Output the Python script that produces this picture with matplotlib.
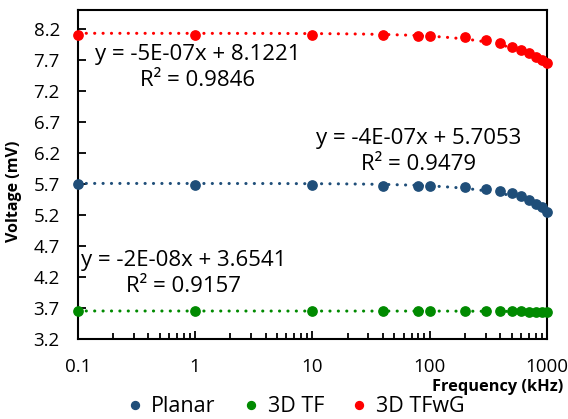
import matplotlib
matplotlib.use("Agg")
import matplotlib.pyplot as plt
import numpy as np

# frequency in kHz
freq = [0.1, 1, 10, 40, 80, 100, 200, 300, 400, 500, 600, 700, 800, 900, 1000]

planar = [5.69, 5.68, 5.68, 5.665, 5.665, 5.665, 5.65, 5.62, 5.585, 5.55,
          5.50, 5.44, 5.38, 5.33, 5.25]
tf3d = [3.65, 3.65, 3.65, 3.65, 3.65, 3.65, 3.65, 3.65, 3.645, 3.645,
        3.645, 3.64, 3.64, 3.64, 3.635]
tfwg = [8.10, 8.10, 8.10, 8.10, 8.09, 8.09, 8.06, 8.02, 7.97, 7.91,
        7.85, 7.80, 7.74, 7.69, 7.65]

labels = ["Planar", "3D TF", "3D TFwG"]
colors = ["#1f4e79", "#008a00", "#ff0000"]
fit_text = [
    "y = -4E-07x + 5.7053\nR² = 0.9479",
    "y = -2E-08x + 3.6541\nR² = 0.9157",
    "y = -5E-07x + 8.1221\nR² = 0.9846",
]
text_pos = [(81, 6.22), (0.80, 4.26), (1.05, 7.58)]

yticks = [3.2, 3.7, 4.2, 4.7, 5.2, 5.7, 6.2, 6.7, 7.2, 7.7, 8.2]
xticks = [0.1, 1, 10, 100, 1000]
xticklabels = ["0.1", "1", "10", "100", "1000"]

plt.rcParams['font.family'] = ['Open Sans', 'DejaVu Sans']

fig = plt.figure(figsize=(5.68, 4.19), dpi=100)
ax = fig.add_axes([0.137, 0.191, 0.826, 0.785])

xs = np.array(freq)
xd = np.logspace(-1, 3, 400)
for ys, lab, c, txt, pos in zip([planar, tf3d, tfwg], labels, colors, fit_text, text_pos):
    # linear trendline, fitted in Hz like the spreadsheet did
    k, b = np.polyfit(xs * 1000, np.array(ys), 1)
    ax.plot(xd, k * xd * 1000 + b, color=c, lw=2.2,
            linestyle=(0, (0.05, 2.7)), dash_capstyle='round')
    ax.plot(freq, ys, 'o', color=c, ms=6.7, label=lab, clip_on=False, zorder=3)
    ax.text(pos[0], pos[1], txt, ha='center', va='center', multialignment='center',
            fontsize=16, linespacing=1.3)

ax.set_xscale('log')
ax.set_xlim(0.1, 1000)
ax.set_ylim(3.2, 8.5)
ax.set_yticks(yticks)
ax.set_yticklabels([f"{v:.1f}" for v in yticks])
ax.set_xticks(xticks)
ax.set_xticklabels(xticklabels)
ax.tick_params(axis='both', which='both', direction='in', labelsize=13.5, width=1.3)
ax.tick_params(axis='x', which='major', length=6, pad=14)
ax.tick_params(axis='x', which='minor', length=4)
ax.tick_params(axis='y', length=6, pad=13)
for s in ax.spines.values():
    s.set_linewidth(1.5)

ax.set_ylabel("Voltage (mV)", fontsize=11.5, fontweight='bold')
ax.yaxis.set_label_coords(-0.12, 0.45)
fig.text(0.992, 0.077, "Frequency (kHz)", ha='right', va='center',
         fontsize=11.8, fontweight='bold')

fig.legend(loc='center', bbox_to_anchor=(0.521, 0.029), ncol=3, frameon=False,
           fontsize=15.5, handlelength=0.7, handletextpad=0.4, columnspacing=1.3,
           markerscale=0.85, borderpad=0)

fig.savefig("out.png", dpi=100)
